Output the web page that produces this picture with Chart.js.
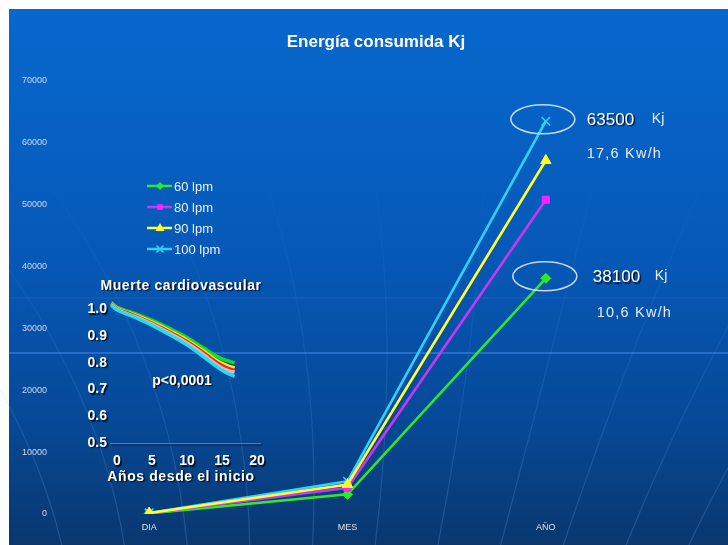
<!DOCTYPE html>
<html>
<head>
<meta charset="utf-8">
<script src="https://cdn.jsdelivr.net/npm/chart.js@4"></script>
<style>
  html, body { margin: 0; padding: 0; background: #ffffff; }
  #wrap { position: relative; width: 728px; height: 545px; overflow: hidden; }
  #main { position: absolute; left: 0; top: 0; }
  #inset { position: absolute; left: 78px; top: 272px; }
</style>
</head>
<body>
<div id="wrap">
  <canvas id="main" width="728" height="545"></canvas>
  <canvas id="inset" width="197" height="220"></canvas>
</div>
<script>
// Energy consumed by the heart (kJ) per day, month and year at each heart rate
const periods = ['DIA', 'MES', 'AÑO'];
const rateLabels = ['60 lpm', '80 lpm', '90 lpm', '100 lpm'];
const energy60  = [104, 3175, 38100];
const energy80  = [139, 4233, 50800];
const energy90  = [157, 4763, 57150];
const energy100 = [174, 5292, 63500];
const energyMax = 70000;
const energyStep = 10000;

// Cardiovascular survival by heart-rate group (years since start)
const followYears   = [-0.8, 0, 2, 4, 6, 8, 10, 12, 13, 14, 15, 16, 16.8];
const survivalA = [1.025, 1.008, 0.990, 0.970, 0.948, 0.922, 0.895, 0.862, 0.845, 0.828, 0.815, 0.806, 0.800];
const survivalB = [1.022, 1.004, 0.985, 0.964, 0.940, 0.913, 0.885, 0.850, 0.832, 0.813, 0.798, 0.787, 0.781];
const survivalC = [1.020, 1.002, 0.982, 0.960, 0.936, 0.909, 0.880, 0.845, 0.826, 0.806, 0.790, 0.778, 0.772];
const survivalD = [1.018, 1.000, 0.979, 0.957, 0.932, 0.904, 0.874, 0.838, 0.818, 0.798, 0.781, 0.770, 0.765];
const survivalE = [1.015, 0.998, 0.976, 0.953, 0.927, 0.898, 0.867, 0.830, 0.810, 0.790, 0.772, 0.758, 0.750];
const yearTicks = [0, 5, 10, 15, 20];
const survivalTicks = [0.5, 0.6, 0.7, 0.8, 0.9, 1.0];

const FONT = "'Liberation Sans', Arial, sans-serif";

const series = [
  { label: rateLabels[0], data: energy60,  line: '#2ee82e', fill: '#2ee82e', style: 'rectRot',  radius: 5, order: 3 },
  { label: rateLabels[1], data: energy80,  line: '#c837f0', fill: '#ff22ff', style: 'rect',     radius: 5, order: 2 },
  { label: rateLabels[2], data: energy90,  line: '#ffff3a', fill: '#ffff22', style: 'triangle', radius: 6, order: 0 },
  { label: rateLabels[3], data: energy100, line: '#2fd2ff', fill: '#2fd2ff', style: 'crossRot', radius: 6, order: 1 }
];

function drawMarker(ctx, style, x, y, r, color) {
  ctx.save();
  ctx.fillStyle = color;
  ctx.strokeStyle = color;
  ctx.lineWidth = 1.6;
  ctx.beginPath();
  if (style === 'rectRot') {
    ctx.moveTo(x, y - r); ctx.lineTo(x + r, y); ctx.lineTo(x, y + r); ctx.lineTo(x - r, y); ctx.closePath(); ctx.fill();
  } else if (style === 'rect') {
    ctx.rect(x - r * 0.7, y - r * 0.7, r * 1.4, r * 1.4); ctx.fill();
  } else if (style === 'triangle') {
    ctx.moveTo(x, y - r); ctx.lineTo(x + r * 0.9, y + r * 0.6); ctx.lineTo(x - r * 0.9, y + r * 0.6); ctx.closePath(); ctx.fill();
  } else {
    ctx.moveTo(x - r * 0.7, y - r * 0.7); ctx.lineTo(x + r * 0.7, y + r * 0.7);
    ctx.moveTo(x + r * 0.7, y - r * 0.7); ctx.lineTo(x - r * 0.7, y + r * 0.7); ctx.stroke();
  }
  ctx.restore();
}

// Slide backdrop: white frame, blue gradient, faint globe meridians
const backdrop = {
  id: 'backdrop',
  beforeDraw(chart) {
    const ctx = chart.ctx;
    const W = chart.width, H = chart.height;
    ctx.save();
    ctx.fillStyle = '#ffffff';
    ctx.fillRect(0, 0, W, H);
    const g = ctx.createLinearGradient(0, 9, 0, H);
    g.addColorStop(0, '#0768ce');
    g.addColorStop(0.45, '#0659b8');
    g.addColorStop(0.75, '#064a9a');
    g.addColorStop(1, '#0a376e');
    ctx.fillStyle = g;
    ctx.fillRect(9, 9, W - 9, H - 9);

    // meridian curves
    for (let i = 0; i < 15; i++) {
      const xb = -60 + i * 62;
      const xt = 380 + (xb - 380) * 1.9;
      const xc = 380 + (xb - 380) * 1.25 + 30;
      const mg = ctx.createLinearGradient(0, H, 0, 160);
      mg.addColorStop(0, 'rgba(110,170,255,0.24)');
      mg.addColorStop(0.55, 'rgba(110,170,255,0.10)');
      mg.addColorStop(1, 'rgba(110,170,255,0)');
      ctx.strokeStyle = mg;
      ctx.lineWidth = 1.2;
      ctx.beginPath();
      ctx.moveTo(xb, H + 10);
      ctx.quadraticCurveTo(xc, 330, xt, 140);
      ctx.stroke();
    }
    // light horizontal bands
    ctx.strokeStyle = 'rgba(90,160,255,0.5)';
    ctx.lineWidth = 1.5;
    ctx.beginPath(); ctx.moveTo(9, 353); ctx.lineTo(W, 353); ctx.stroke();
    ctx.strokeStyle = 'rgba(90,160,255,0.16)';
    ctx.lineWidth = 1;
    ctx.beginPath(); ctx.moveTo(9, 298); ctx.lineTo(W, 298); ctx.stroke();
    ctx.restore();
  },
  afterDraw(chart) {
    const ctx = chart.ctx;
    ctx.save();
    // title
    ctx.fillStyle = '#ffffff';
    ctx.font = 'bold 17px ' + FONT;
    ctx.textAlign = 'center';
    ctx.textBaseline = 'middle';
    ctx.fillText('Energía consumida Kj', 376, 42);

    // legend
    ctx.font = '13px ' + FONT;
    ctx.textAlign = 'left';
    series.forEach((s, i) => {
      const y = 186 + i * 21;
      ctx.strokeStyle = s.line;
      ctx.lineWidth = 2.5;
      ctx.beginPath(); ctx.moveTo(147, y); ctx.lineTo(172, y); ctx.stroke();
      drawMarker(ctx, s.style, 160, y, s.radius - 1, s.fill);
      ctx.fillStyle = '#eef3fb';
      ctx.fillText(s.label, 174, y + 1);
    });

    // yearly totals circled on the plot
    const xs = chart.scales.x, ys = chart.scales.y;
    const last = periods.length - 1;
    const notes = [
      { value: energy100[last], dx: 0, tx: 41, kx: 106, wy: 33, wx: 41 },
      { value: energy60[last],  dx: 2, tx: 47, kx: 109, wy: 35, wx: 51 }
    ];
    notes.forEach(n => {
      const px = xs.getPixelForValue(last);
      const py = ys.getPixelForValue(n.value);
      ctx.strokeStyle = 'rgba(220,230,245,0.9)';
      ctx.lineWidth = 1.6;
      ctx.beginPath();
      ctx.ellipse(px - 3 + n.dx, py - 2, 32, 14.5, 0, 0, Math.PI * 2);
      ctx.stroke();

      ctx.shadowColor = 'rgba(0,0,0,0.75)';
      ctx.shadowOffsetX = 1.5; ctx.shadowOffsetY = 1.5; ctx.shadowBlur = 1;
      ctx.fillStyle = '#ffffff';
      ctx.font = '17px ' + FONT;
      ctx.fillText(String(n.value), px + n.tx, py - 1);
      ctx.shadowColor = 'transparent';
      ctx.font = '14px ' + FONT;
      ctx.fillStyle = '#e6edf8';
      ctx.fillText('Kj', px + n.kx, py - 2);
      ctx.font = '14.5px ' + FONT;
      ctx.letterSpacing = '1.2px';
      const kwh = (n.value / 3600).toFixed(1).replace('.', ',');
      ctx.fillText(kwh + ' Kw/h', px + n.wx, py + n.wy);
      ctx.letterSpacing = '0px';
    });
    ctx.restore();
  }
};

new Chart(document.getElementById('main'), {
  type: 'line',
  data: {
    labels: periods,
    datasets: series.map(s => ({
      label: s.label,
      data: s.data,
      borderColor: s.line,
      backgroundColor: s.fill,
      pointBackgroundColor: s.fill,
      pointBorderColor: s.fill,
      pointStyle: s.style,
      pointRadius: s.radius,
      pointBorderWidth: s.style === 'crossRot' ? 1.6 : 1,
      borderWidth: 2.6,
      tension: 0,
      fill: false,
      order: s.order
    }))
  },
  options: {
    responsive: false,
    animation: false,
    devicePixelRatio: 1,
    layout: { padding: { left: 0, right: 83, top: 81, bottom: 0 } },
    plugins: { legend: { display: false }, title: { display: false }, tooltip: { enabled: false } },
    scales: {
      x: {
        type: 'category',
        offset: true,
        grid: { display: false, drawTicks: false },
        border: { display: false },
        ticks: { color: '#d8e0ee', font: { size: 9, family: FONT }, padding: 8 },
        afterFit(s) { s.height = 31; }
      },
      y: {
        min: 0,
        max: energyMax,
        grid: { display: false, drawTicks: false },
        border: { display: false },
        ticks: {
          stepSize: energyStep,
          color: '#d0d9ea',
          font: { size: 9, family: FONT },
          padding: 3,
          callback: v => String(v)
        },
        afterFit(s) { s.width = 50; }
      }
    }
  },
  plugins: [backdrop]
});

// Inset: survival curves
const insetSeries = [
  { data: survivalE, color: '#26dcef' },
  { data: survivalD, color: '#dcb9cb' },
  { data: survivalC, color: '#ee2418' },
  { data: survivalB, color: '#ffec14' },
  { data: survivalA, color: '#14dc24' }
];

const insetText = {
  id: 'insetText',
  beforeDraw(chart) {
    const ctx = chart.ctx;
    ctx.save();
    ctx.shadowColor = 'rgba(0,0,0,0.8)';
    ctx.shadowOffsetX = 1.5; ctx.shadowOffsetY = 1.5; ctx.shadowBlur = 1;
  },
  beforeDatasetsDraw(chart) {
    chart.ctx.restore();
  },
  afterDraw(chart) {
    const ctx = chart.ctx;
    const ox = 78, oy = 272;
    ctx.save();
    ctx.shadowColor = 'rgba(0,0,0,0.8)';
    ctx.shadowOffsetX = 1.5; ctx.shadowOffsetY = 1.5; ctx.shadowBlur = 1;
    ctx.fillStyle = '#ffffff';
    ctx.textAlign = 'center';
    ctx.textBaseline = 'middle';
    ctx.font = 'bold 14px ' + FONT;
    ctx.letterSpacing = '0.6px';
    ctx.fillText('Muerte cardiovascular', 181 - ox, 286 - oy);
    ctx.fillText('Años desde el inicio', 181 - ox, 477 - oy);
    ctx.letterSpacing = '0px';
    ctx.fillText('p<0,0001', 182 - ox, 381 - oy);
    ctx.restore();
  }
};

new Chart(document.getElementById('inset'), {
  type: 'line',
  data: {
    datasets: insetSeries.map(s => ({
      data: followYears.map((t, i) => ({ x: t, y: s.data[i] })),
      borderColor: s.color,
      borderWidth: 3.4,
      pointRadius: 0,
      cubicInterpolationMode: 'monotone',
      fill: false
    }))
  },
  options: {
    responsive: false,
    animation: false,
    devicePixelRatio: 1,
    layout: { padding: { left: 0, right: 10, top: 24, bottom: 0 } },
    plugins: { legend: { display: false }, tooltip: { enabled: false } },
    scales: {
      x: {
        type: 'linear',
        min: -1,
        max: 20.5,
        afterBuildTicks(s) { s.ticks = yearTicks.map(v => ({ value: v })); },
        grid: { display: false, drawTicks: false },
        border: { display: true, color: 'rgba(120,175,240,0.55)', width: 1 },
        ticks: { color: '#ffffff', font: { size: 14, weight: 'bold', family: FONT }, padding: 10, autoSkip: false, maxRotation: 0 },
        afterFit(s) { s.height = 49; }
      },
      y: {
        min: 0.5,
        max: 1.05,
        afterBuildTicks(s) { s.ticks = survivalTicks.map(v => ({ value: v })); },
        grid: { display: false, drawTicks: false },
        border: { display: false },
        ticks: { color: '#ffffff', font: { size: 14, weight: 'bold', family: FONT }, padding: 3, autoSkip: false, callback: v => v.toFixed(1) },
        afterFit(s) { s.width = 32; }
      }
    }
  },
  plugins: [insetText]
});
</script>
</body>
</html>
